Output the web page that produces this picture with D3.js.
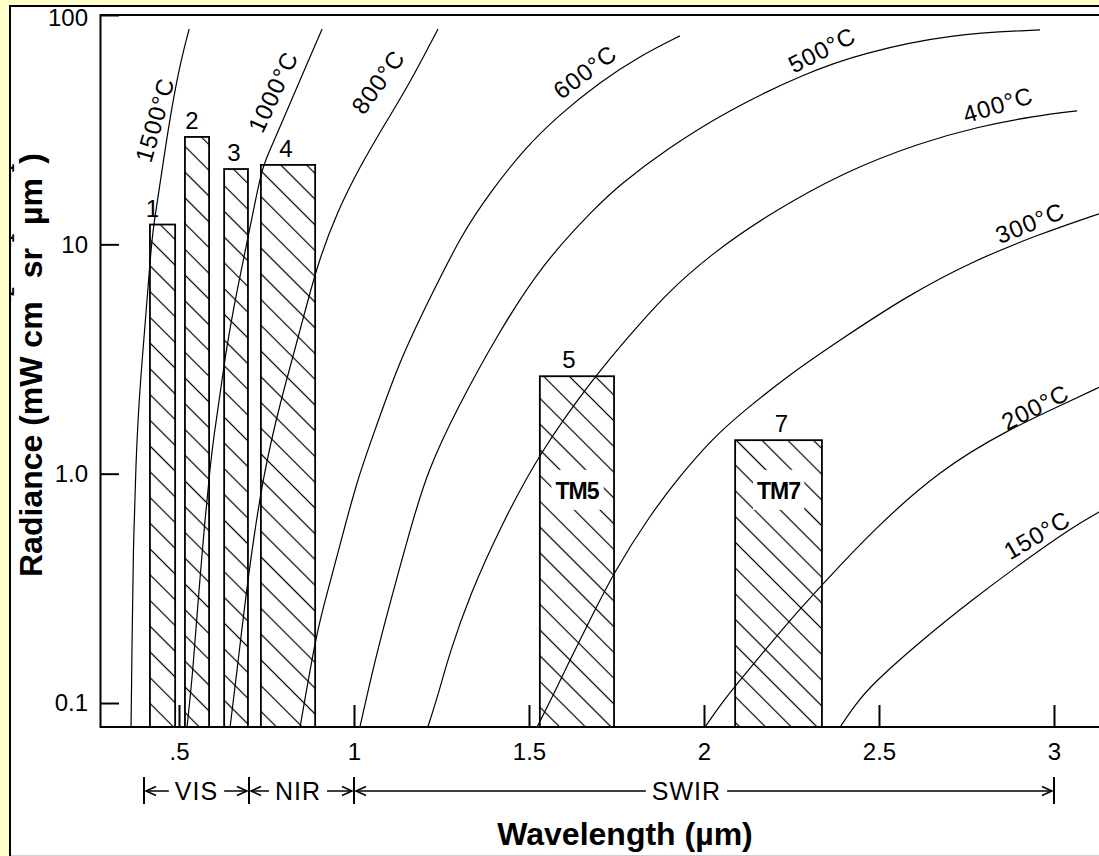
<!DOCTYPE html>
<html><head><meta charset="utf-8">
<script src="https://cdn.jsdelivr.net/npm/d3@7"></script>
<style>
html,body{margin:0;padding:0;background:#ffffcc;}
svg{display:block;}
text{font-family:"Liberation Sans", Arial, sans-serif; fill:#000;}
</style></head><body>
<svg id="chart" width="1099" height="856"></svg>
<script>
// ---------------- DATA ----------------
const yTickValues = [0.1, 1, 10, 100];
const yTickLabels = ["0.1", "1.0", "10", "100"];
const xTickValues = [0.5, 1, 1.5, 2, 2.5, 3];
const xTickLabels = [".5", "1", "1.5", "2", "2.5", "3"];

// Landsat TM bands as drawn (wavelength in µm, radiance top)
const bandNames = ["1", "2", "3", "4", "5", "7"];
const bandStart = [0.417, 0.517, 0.629, 0.734, 1.531, 2.089];
const bandEnd   = [0.489, 0.586, 0.697, 0.889, 1.743, 2.337];
const bandTop   = [12.2, 29.4, 21.3, 22.2, 2.66, 1.40];
const bandTags  = ["", "", "", "", "TM5", "TM7"];
const bandTagValue = 0.85;

// blackbody curves [wavelength µm, radiance]
const c1500 = [[0.363,0.0786],[0.366,0.188],[0.369,0.451],[0.377,1.15],[0.386,2.10],[0.397,3.46],[0.410,6.0],[0.423,11.0],[0.437,14.9],[0.460,25.8],[0.483,42.6],[0.506,63.7],[0.529,87]];
const c1000 = [[0.523,0.0786],[0.540,0.139],[0.554,0.273],[0.574,0.628],[0.589,1.07],[0.600,1.475],[0.617,2.20],[0.634,3.39],[0.654,5.07],[0.674,7.21],[0.697,10.7],[0.717,15.2],[0.737,21.1],[0.751,24.1],[0.800,35.6],[0.851,54.3],[0.909,86.9]];
const c800  = [[0.646,0.0786],[0.666,0.139],[0.697,0.354],[0.740,0.987],[0.791,2.10],[0.843,4.03],[0.894,8.13],[0.954,14.1],[1.017,21.8],[1.083,32.5],[1.160,50.6],[1.240,86.9]];
const c600  = [[0.846,0.0786],[0.894,0.208],[0.926,0.311],[0.960,0.489],[1.009,0.939],[1.060,1.55],[1.131,3.13],[1.217,5.84],[1.311,11.3],[1.389,16.8],[1.483,25.8],[1.589,37.0],[1.703,51.1],[1.817,66.3],[1.931,81.1]];
const c500  = [[1.017,0.0786],[1.060,0.154],[1.103,0.273],[1.160,0.568],[1.211,1.038],[1.294,1.915],[1.409,4.03],[1.540,8.30],[1.694,14.7],[1.760,18.2],[1.894,26.1],[2.071,38.6],[2.291,55.9],[2.454,68.3],[2.706,82.7],[2.960,86.1]];
const c400  = [[1.211,0.0786],[1.240,0.108],[1.274,0.167],[1.331,0.296],[1.417,0.580],[1.531,1.243],[1.689,2.67],[1.789,4.03],[1.886,5.96],[2.017,8.99],[2.180,13.4],[2.400,20.7],[2.617,27.7],[2.780,32.5],[2.946,36.3],[3.066,38.2]];
const c300  = [[1.523,0.0786],[1.569,0.108],[1.617,0.154],[1.674,0.230],[1.743,0.373],[1.846,0.660],[1.931,0.977],[2.026,1.43],[2.103,1.82],[2.246,2.72],[2.389,3.83],[2.580,5.96],[2.769,8.47],[2.960,11.1],[3.129,13.6]];
const c200  = [[2.003,0.0786],[2.046,0.098],[2.103,0.126],[2.180,0.174],[2.246,0.230],[2.337,0.327],[2.483,0.568],[2.674,1.038],[2.866,1.55],[3.054,2.10],[3.129,2.38]];
const c150  = [[2.389,0.0786],[2.431,0.098],[2.483,0.122],[2.626,0.190],[2.769,0.284],[2.911,0.412],[3.054,0.586],[3.129,0.681]];

const curveNames = ["1500\u00B0C","1000\u00B0C","800\u00B0C","600\u00B0C","500\u00B0C","400\u00B0C","300\u00B0C","200\u00B0C","150\u00B0C"];
const curveSeries = [c1500, c1000, c800, c600, c500, c400, c300, c200, c150];
const curveLabelAt = [[0.431,34.9],[0.769,46.2],[1.069,51.1],[1.660,56.5],[2.337,70.4],[2.840,40.6],[2.931,12.4],[2.946,1.95],[2.951,0.54]];

// spectral regions
const regionNames = ["VIS", "NIR", "SWIR"];
const regionStart = [0.4, 0.7, 1.0];
const regionEnd   = [0.7, 1.0, 3.0];
const regionLabelAt = [0.55, 0.84, 1.95];

// ---------------- LAYOUT ----------------
const W = 1099, H = 856;
const plotL = 100, plotR = 1099, plotT = 15, plotB = 727;
const labelAngle = [-74, -65, -54, -37, -27, -17, -22, -27, -30];
const bandLabelDx = [-10, -5, -2, -2, -8, 3];

const svg = d3.select("#chart");
svg.append("rect").attr("width", W).attr("height", H).attr("fill", "#ffffcc");
svg.append("rect").attr("x", 10).attr("y", 6).attr("width", W).attr("height", H).attr("fill", "#fff");

const x = d3.scaleLinear().domain([0.2743, 3.1286]).range([plotL, plotR]);
const y = d3.scaleLog().domain([0.0786, 100]).range([plotB, plotT]);

const defs = svg.append("defs");
const pat = defs.append("pattern").attr("id", "hatch")
  .attr("patternUnits", "userSpaceOnUse")
  .attr("width", 18.2).attr("height", 18.2)
  .attr("patternTransform", "rotate(45)");
pat.append("line").attr("x1", -1).attr("x2", 19.2).attr("y1", 9.1).attr("y2", 9.1)
  .attr("stroke", "#000").attr("stroke-width", 1.2);
defs.append("clipPath").attr("id", "plotclip").append("rect")
  .attr("x", plotL).attr("y", plotT).attr("width", plotR - plotL).attr("height", plotB - plotT);

// bars
const bands = bandNames.map((n, i) => ({name: n, start: bandStart[i], end: bandEnd[i], top: bandTop[i], tag: bandTags[i], dx: bandLabelDx[i]}));
svg.append("g").selectAll("rect").data(bands).join("rect")
  .attr("x", d => x(d.start)).attr("width", d => x(d.end) - x(d.start))
  .attr("y", d => y(d.top)).attr("height", d => y.range()[0] - y(d.top))
  .attr("fill", "url(#hatch)").attr("stroke", "#000").attr("stroke-width", 1.8);

// bar numbers
svg.append("g").selectAll("text").data(bands).join("text")
  .attr("x", d => (x(d.start) + x(d.end)) / 2 + d.dx).attr("y", d => y(d.top) - 8)
  .attr("text-anchor", "middle").attr("font-size", 24).text(d => d.name);

// TM tags with white background
bands.filter(d => d.tag).forEach(d => {
  const cx = (x(d.start) + x(d.end)) / 2;
  const g = svg.append("g");
  const bg = g.append("rect").attr("fill", "#fff");
  const t = g.append("text").attr("x", cx).attr("y", y(bandTagValue) + 9)
    .attr("text-anchor", "middle").attr("font-size", 23).attr("font-weight", "bold")
    .attr("letter-spacing", -1).text(d.tag);
  const bb = t.node().getBBox();
  bg.attr("x", bb.x - 4).attr("y", bb.y - 8).attr("width", bb.width + 8).attr("height", bb.height + 14);
});

// curves
const line = d3.line().x(d => x(d[0])).y(d => y(d[1])).curve(d3.curveBasis);
svg.append("g").attr("clip-path", "url(#plotclip)").selectAll("path").data(curveSeries).join("path")
  .attr("d", line).attr("fill", "none").attr("stroke", "#000").attr("stroke-width", 1.2);

// curve labels
svg.append("g").selectAll("text").data(curveNames).join("text")
  .attr("transform", (d, i) => `translate(${x(curveLabelAt[i][0])},${y(curveLabelAt[i][1])}) rotate(${labelAngle[i]})`)
  .attr("text-anchor", "middle").attr("dominant-baseline", "central")
  .attr("font-size", 24).attr("letter-spacing", 1).text(d => d);

// axes
const yAxis = d3.axisLeft(y).tickValues(yTickValues).tickFormat((d, i) => yTickLabels[i])
  .tickSizeInner(-19).tickSizeOuter(0).tickPadding(12);
const gy = svg.append("g").attr("transform", `translate(${plotL},0)`).call(yAxis);
gy.select(".domain").remove();
gy.selectAll("line").attr("stroke", "#000").attr("stroke-width", 2);
gy.selectAll("text").attr("font-size", 24).attr("font-family", "Liberation Sans, Arial, sans-serif").attr("fill", "#000");
gy.selectAll(".tick").filter(d => d === 100).select("text").attr("dy", "0.42em");

const xAxis = d3.axisBottom(x).tickValues(xTickValues).tickFormat((d, i) => xTickLabels[i])
  .tickSizeInner(-22).tickSizeOuter(0).tickPadding(16);
const gx = svg.append("g").attr("transform", `translate(0,${plotB})`).call(xAxis);
gx.select(".domain").remove();
gx.selectAll("line").attr("stroke", "#000").attr("stroke-width", 2);
gx.selectAll("text").attr("font-size", 24).attr("font-family", "Liberation Sans, Arial, sans-serif").attr("fill", "#000");

// frame lines
svg.append("line").attr("x1", plotL).attr("x2", plotR).attr("y1", plotT).attr("y2", plotT).attr("stroke", "#000").attr("stroke-width", 2);
svg.append("line").attr("x1", plotL).attr("x2", plotR).attr("y1", plotB).attr("y2", plotB).attr("stroke", "#000").attr("stroke-width", 2);
svg.append("line").attr("x1", plotL + 0.5).attr("x2", plotL + 0.5).attr("y1", plotT - 1).attr("y2", plotB + 1).attr("stroke", "#000").attr("stroke-width", 2);

// spectral regions row
const ry = 791;
const rg = svg.append("g");
regionNames.forEach((name, i) => {
  const x0 = x(regionStart[i]), x1 = x(regionEnd[i]), xc = x(regionLabelAt[i]);
  const t = rg.append("text").attr("x", xc).attr("y", ry + 9).attr("text-anchor", "middle")
    .attr("font-size", 25).attr("letter-spacing", 1).text(name);
  const w = t.node().getComputedTextLength();
  const gap = 6;
  const la = x0 + 2, lb = xc - w / 2 - gap, rb = xc + w / 2 + gap, ra = x1 - 2;
  rg.append("line").attr("x1", la).attr("x2", lb).attr("y1", ry).attr("y2", ry).attr("stroke", "#000").attr("stroke-width", 1.5);
  rg.append("line").attr("x1", rb).attr("x2", ra).attr("y1", ry).attr("y2", ry).attr("stroke", "#000").attr("stroke-width", 1.5);
  rg.append("path").attr("d", `M${la + 10},${ry - 4.5}L${la},${ry}L${la + 10},${ry + 4.5}`).attr("fill", "none").attr("stroke", "#000").attr("stroke-width", 1.5);
  rg.append("path").attr("d", `M${ra - 10},${ry - 4.5}L${ra},${ry}L${ra - 10},${ry + 4.5}`).attr("fill", "none").attr("stroke", "#000").attr("stroke-width", 1.5);
});
const bounds = Array.from(new Set(regionStart.concat(regionEnd)));
rg.selectAll(".bnd").data(bounds).join("line").attr("class", "bnd")
  .attr("x1", d => x(d)).attr("x2", d => x(d)).attr("y1", ry - 14).attr("y2", ry + 13)
  .attr("stroke", "#000").attr("stroke-width", 2);

// axis titles
svg.append("text").attr("x", 625).attr("y", 845).attr("text-anchor", "middle")
  .attr("font-size", 32).attr("font-weight", "bold").text("Wavelength (\u00B5m)");

const yt = svg.append("text").attr("transform", "translate(42,577) rotate(-90)")
  .attr("font-size", 32).attr("font-weight", "bold");
yt.append("tspan").text("Radiance (mW cm");
yt.append("tspan").attr("dy", -28).attr("font-size", 16).text("-2");
yt.append("tspan").attr("dy", 28).text(" sr");
yt.append("tspan").attr("dy", -28).attr("font-size", 16).text("-1");
yt.append("tspan").attr("dy", 28).text(" \u00B5m");
yt.append("tspan").attr("dy", -28).attr("font-size", 16).text("-1");
yt.append("tspan").attr("dy", 28).text(")");

// outer panel border (drawn last so it clips overhanging text)
svg.append("rect").attr("x", 0).attr("y", 0).attr("width", 9).attr("height", H).attr("fill", "#ffffcc");
svg.append("rect").attr("x", 0).attr("y", 0).attr("width", W).attr("height", 5).attr("fill", "#ffffcc");
svg.append("line").attr("x1", 10).attr("x2", 10).attr("y1", 5).attr("y2", H).attr("stroke", "#000").attr("stroke-width", 2);
svg.append("line").attr("x1", 9).attr("x2", W).attr("y1", 6).attr("y2", 6).attr("stroke", "#000").attr("stroke-width", 2);
svg.append("line").attr("x1", 11).attr("x2", W).attr("y1", 855.5).attr("y2", 855.5).attr("stroke", "#d0d0d0").attr("stroke-width", 1);
</script>
</body></html>
